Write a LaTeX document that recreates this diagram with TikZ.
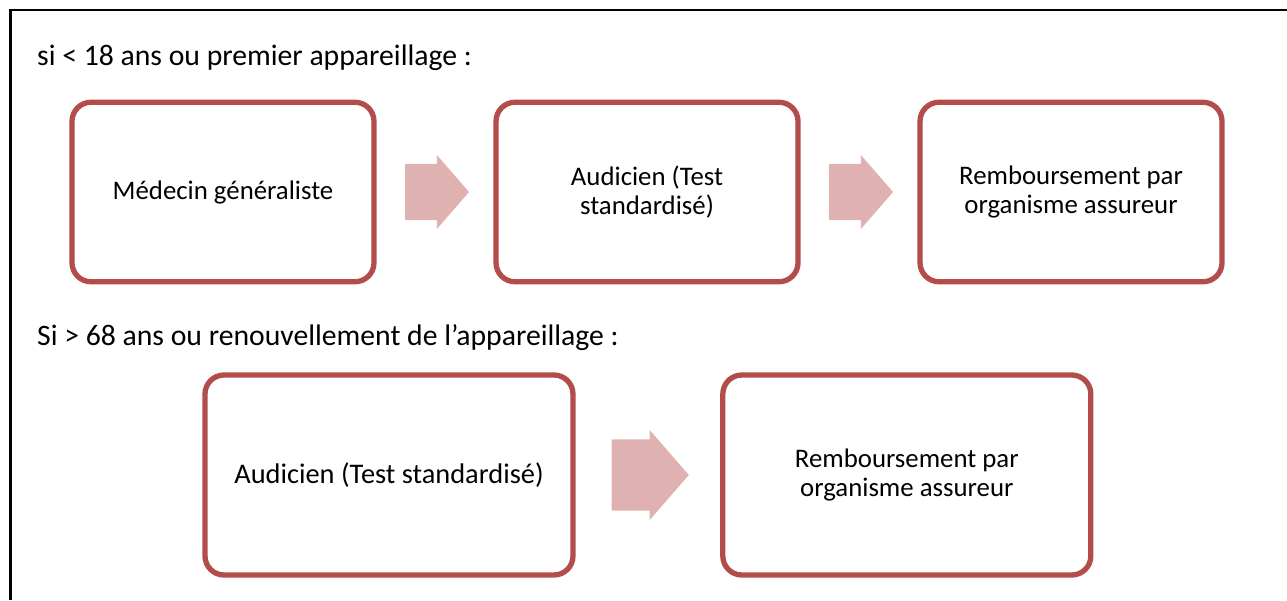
\documentclass[tikz,border=0pt]{standalone}
\usepackage{fontspec}
\setmainfont{Carlito}
\usetikzlibrary{positioning,shapes.arrows}
\definecolor{cadre}{RGB}{178,77,74}
\definecolor{flechefond}{RGB}{223,178,177}
\tikzset{etape/.style={draw=cadre,line width=5.3pt,rounded corners=19pt,fill=white,
		align=center,inner sep=0pt,outer sep=0pt,font=\fontsize{26.8}{29.5}\selectfont},
	 fleche/.style={single arrow,fill=flechefond,inner xsep=0pt,inner ysep=22.5pt,outer sep=0pt,
		single arrow tip angle=98,minimum height=64pt,minimum width=74pt},
	 grandefleche/.style={fleche,inner ysep=27pt,minimum height=77.3pt,minimum width=90pt},
	 titre/.style={anchor=base west,inner sep=0pt,font=\fontsize{29.7}{33}\selectfont},
	 node distance = 29pt
	 }

\begin{document}
\begin{tikzpicture}[x=1pt,y=-1pt]
	\useasboundingbox (0,0) rectangle (1287,600);
	\draw[line width=2.6pt] (10.3,600) -- (10.3,10) -- (1287,10);
	% premier cas
	\node[titre] (t1) at (37,65) {si < 18 ans ou premier appareillage :};
	\node[etape,minimum width=302pt,minimum height=179.5pt] (b1) at (223,192) {Médecin généraliste};
	\node[fleche] (f1) [right=31pt of b1] {};
	\node[etape,minimum width=302pt,minimum height=179.5pt] (b2) [right=27pt of f1] {Audicien (Test\\standardisé)};
	\node[fleche] (f2) [right=31pt of b2] {};
	\node[etape,minimum width=302pt,minimum height=179.5pt] (b3) [right=27pt of f2] {Remboursement par\\organisme assureur};
	% second cas
	\node[titre] (t2) at (37,345) {Si > 68 ans ou renouvellement de l’appareillage :};
	\node[etape,minimum width=368pt,minimum height=200pt,font=\fontsize{28.4}{31}\selectfont] (b4) at (389,475) {Audicien (Test standardisé)};
	\node[grandefleche] (f3) [right=38.5pt of b4] {};
	\node[etape,minimum width=368pt,minimum height=200pt] (b5) [right=34pt of f3] {Remboursement par\\organisme assureur};
\end{tikzpicture}
\end{document}
